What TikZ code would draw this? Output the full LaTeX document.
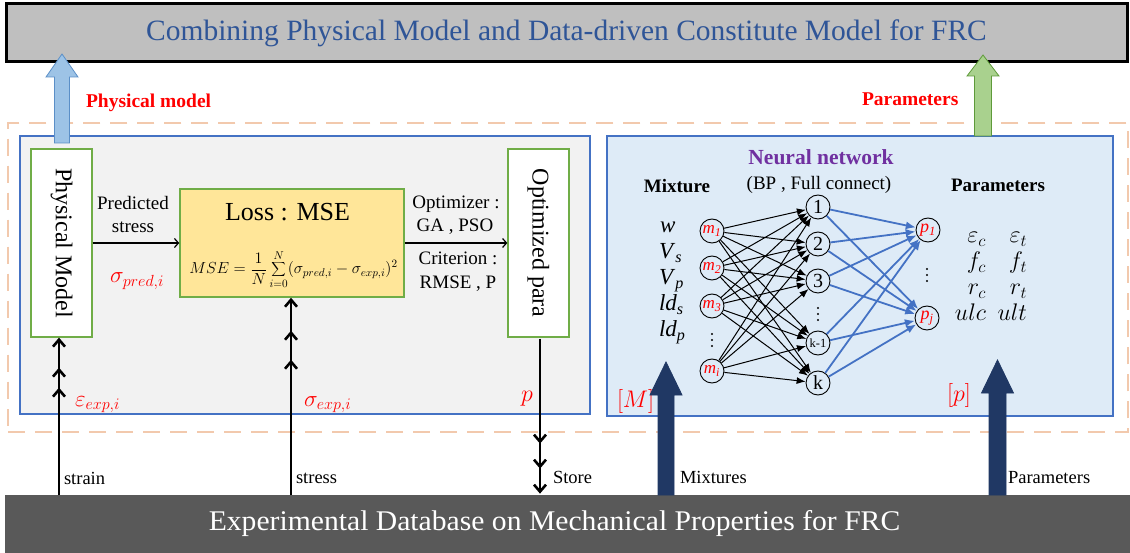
\documentclass[tikz,border=0pt]{standalone}
\usepackage{fix-cm}
\usepackage{fontspec}
\setmainfont{Liberation Serif}[BoldFont={Liberation Serif Bold},ItalicFont={Liberation Serif Italic}]
\usetikzlibrary{arrows.meta,decorations.markings,calc}

\definecolor{titleblue}{HTML}{2F5597}
\definecolor{topgray}{HTML}{BFBFBF}
\definecolor{dbgray}{HTML}{595959}
\definecolor{boxblue}{HTML}{4472C4}
\definecolor{leftfill}{HTML}{F2F2F2}
\definecolor{rightfill}{HTML}{DEEBF7}
\definecolor{boxgreen}{HTML}{70AD47}
\definecolor{lossfill}{HTML}{FFE699}
\definecolor{dashtan}{HTML}{C98A62}
\definecolor{dashlight}{HTML}{F2C9AD}
\definecolor{nnpurple}{HTML}{7030A0}
\definecolor{navy}{HTML}{203864}
\definecolor{arrowsky}{HTML}{9DC3E6}
\definecolor{arrowskyline}{HTML}{5B8FC7}
\definecolor{arrowleaf}{HTML}{A9D18E}
\definecolor{arrowleafline}{HTML}{5E9A3A}

\newcommand\fsz[2]{\fontsize{#1}{#2}\selectfont}
% a column of three dots centred on a named coordinate
\newcommand\dotcolumn[1]{%
  \foreach \d in {-6,0,6} \fill ($(#1)+(0,\d)$) circle (1.2);}
% upward block arrow: fill, outline, foot, tip, half shaft, half head, head length
\newcommand\blockup[7]{%
  \draw[fill=#1,draw=#2,line width=0.8] let \p1=(#3),\p2=(#4) in
    (\x1-#5pt,\y1) -- (\x1-#5pt,\y2-#7pt) -- (\x1-#6pt,\y2-#7pt) -- (\x1,\y2)
    -- (\x1+#6pt,\y2-#7pt) -- (\x1+#5pt,\y2-#7pt) -- (\x1+#5pt,\y1) -- cycle;}

\tikzset{
  chevtip/.tip={Straight Barb[length=7pt,width=12pt,line width=2.6pt]},
}

\begin{document}
\begin{tikzpicture}[x=1pt,y=-1pt,
  txt/.style={inner sep=0pt,outer sep=0pt},
  panel/.style={draw=boxblue,line width=2.2,inner sep=0pt},
  gbox/.style={draw=boxgreen,line width=1.3,fill=white,inner sep=0pt,minimum width=61,minimum height=188},
  neuron/.style={draw=black,line width=0.9,circle,minimum size=24,inner sep=0pt},
  nnblack/.style={draw=black,line width=1,-{Latex[length=9pt,width=7pt]}},
  nnblue/.style={draw=boxblue,line width=1.8,-{Latex[length=10pt,width=8pt]}},
  thinflow/.style={line width=1.2,-{Straight Barb[length=4pt,width=9pt,line width=1.2pt]}},
  chevline/.style 2 args={line width=2.6,-chevtip,
    postaction={decorate},
    decoration={markings,
      mark=at position -#1 with {\arrow{chevtip}},
      mark=at position -#2 with {\arrow{chevtip}}}},
  redlbl/.style={txt,text=red},
]
\useasboundingbox (0,0) rectangle (1130,553);

% ---- title bar and database bar ----
\node[draw=black,line width=3,fill=topgray,minimum width=1121,minimum height=58,inner sep=0pt]
  (title) at (566.5,33) {\fsz{29.5}{29.5}\color{titleblue}Combining Physical Model and Data-driven Constitute Model for FRC};
\node[fill=dbgray,minimum width=1126,minimum height=58,inner sep=0pt]
  (db) at (568,524) {};
\node[txt,text=white,xscale=1.04] (dbtext) at (554.5,523) {\fsz{28.5}{28.5}Experimental Database on Mechanical Properties for FRC};

% ---- dashed frame ----
\node[draw=dashtan,line width=0.6,double=dashlight,double distance=1.2pt,
      dash pattern=on 17pt off 10pt,minimum width=1120,minimum height=309,inner sep=0pt]
  (frame) at (568,277.5) {};

% ---- the two panels ----
\node[panel,fill=leftfill,minimum width=570,minimum height=278] (left) at (305,275) {};
\node[panel,fill=rightfill,minimum width=506,minimum height=280] (right) at (860,276) {};

% ---- physical model side ----
\node[gbox] (pm) at (61.5,243) {};
\node[txt,rotate=-90] (pmtext) at (pm.center) {\fsz{24}{24}Physical Model};
\node[gbox] (opt) at (538.5,243) {};
\node[txt,rotate=-90] (opttext) at (opt.center) {\fsz{24}{24}Optimized para};
\node[draw=boxgreen,line width=1.5,fill=lossfill,minimum width=224,minimum height=108,inner sep=0pt]
  (loss) at (292,243) {};
\node[txt,anchor=base] (losstitle) at (287.5,221) {\fsz{26}{26}Loss : MSE};
\node[txt,anchor=base] (lossformula) at (293.5,274)
  {\fsz{16}{16}$\displaystyle MSE=\frac{1}{N}\sum_{i=0}^{N}(\sigma_{pred,i}-\sigma_{exp,i})^2$};

\draw[thinflow] (pm.east) -- (loss.west);
\draw[thinflow] (loss.east) -- (opt.west);

\node[txt,anchor=base] (pred1) at (133,210) {\fsz{19}{19}Predicted};
\node[txt,anchor=base] (pred2) at (133,233) {\fsz{19}{19}stress};
\node[redlbl,anchor=base west] (sigpred) at (110,283) {\fsz{23}{23}$\sigma_{pred,i}$};

\node[txt,anchor=base] (optz1) at (456,209) {\fsz{19}{19}Optimizer :};
\node[txt,anchor=base] (optz2) at (455,232) {\fsz{19}{19}GA , PSO};
\node[txt,anchor=base] (crit1) at (458,265) {\fsz{19}{19}Criterion :};
\node[txt,anchor=base] (crit2) at (458,289) {\fsz{19}{19}RMSE , P};

\node[redlbl,anchor=base west] (epsexp) at (75,406) {\fsz{23}{23}$\varepsilon_{exp,i}$};
\node[redlbl,anchor=base west] (sigexp) at (304,406) {\fsz{23}{23}$\sigma_{exp,i}$};
\node[redlbl,anchor=base west] (plbl) at (521,401) {\fsz{24}{24}$p$};

% ---- inputs from the database and the store line ----
\coordinate (strainfoot) at (59,495);
\coordinate (stressfoot) at (291,495);
\coordinate (storefoot) at ($(opt.south)+(1.5,156)$);
\coordinate (storetop) at ($(opt.south)+(1.5,1)$);
\draw[chevline={30pt}{50pt}] (strainfoot) -- (strainfoot |- pm.south);
\draw[chevline={33pt}{62pt}] (stressfoot) -- (stressfoot |- loss.south);
\draw[chevline={25pt}{50pt}] (storetop) -- (storefoot);

\node[txt,anchor=base west] (strainlbl) at (64,484) {\fsz{18.5}{18.5}strain};
\node[txt,anchor=base west] (stresslbl) at (296,483) {\fsz{18.5}{18.5}stress};
\node[txt,anchor=base west] (storelbl) at (553,483) {\fsz{18.5}{18.5}Store};
\node[txt,anchor=base west] (mixlbl) at (680,483) {\fsz{18.5}{18.5}Mixtures};
\node[txt,anchor=base west] (parlbl) at (1008,483) {\fsz{18.5}{18.5}Parameters};

% ---- neural network side ----
\node[txt,anchor=base,text=nnpurple] (nntitle) at (821,165) {\fsz{21.5}{21.5}\bfseries Neural network};
\node[txt,anchor=base] (nnsub) at (819,190) {\fsz{19}{19}(BP , Full connect)};
\node[txt,anchor=base] (mixhead) at (677,193) {\fsz{19}{19}\bfseries Mixture};
\node[txt,anchor=base] (parhead) at (998,192) {\fsz{19}{19}\bfseries Parameters};

\node[txt,anchor=base west] (vw) at (660,233) {\fsz{23}{23}\textit{w}};
\node[txt,anchor=base west] (vvs) at (659,259) {\fsz{23}{23}\textit{V}\textsubscript{\textit{s}}};
\node[txt,anchor=base west] (vvp) at (659,285) {\fsz{23}{23}\textit{V}\textsubscript{\textit{p}}};
\node[txt,anchor=base west] (vlds) at (659,311) {\fsz{23}{23}\textit{ld}\textsubscript{\textit{s}}};
\node[txt,anchor=base west] (vldp) at (659,337) {\fsz{23}{23}\textit{ld}\textsubscript{\textit{p}}};

\node[neuron] (m1) at (712,231) {\fsz{17}{17}\color{red}\textit{m}\textsubscript{\textit{1}}};
\node[neuron] (m2) at (712,268) {\fsz{17}{17}\color{red}\textit{m}\textsubscript{\textit{2}}};
\node[neuron] (m3) at (712,306) {\fsz{17}{17}\color{red}\textit{m}\textsubscript{\textit{3}}};
\coordinate (mdots) at (712,340);
\node[neuron] (mi) at (712,371) {\fsz{17}{17}\color{red}\textit{m}\textsubscript{\textit{i}}};

\node[neuron] (h1) at (818,207) {\fsz{20}{20}1};
\node[neuron] (h2) at (818,244) {\fsz{20}{20}2};
\node[neuron] (h3) at (818,281) {\fsz{20}{20}3};
\coordinate (hdots) at (818,314);
\node[neuron] (hk1) at (818,343) {\fsz{12.5}{12.5}k-1};
\node[neuron] (hk) at (818,383) {\fsz{20}{20}k};

\node[neuron] (p1) at (928,230) {\fsz{18}{18}\color{red}\textit{p}\textsubscript{\textit{1}}};
\coordinate (pdots) at (927,275);
\node[neuron] (pj) at (927,318) {\fsz{18}{18}\color{red}\textit{p}\textsubscript{\textit{j}}};

\dotcolumn{mdots}
\dotcolumn{hdots}
\dotcolumn{pdots}

\foreach \a in {m1,m2,m3,mi}
  \foreach \b in {h1,h2,h3,hk1,hk}
    \draw[nnblack] (\a) -- (\b);
\foreach \b in {h1,h2,h3,hk1,hk}
  \foreach \c in {p1,pj}
    \draw[nnblue] (\b) -- (\c);

\node[txt,anchor=base east] (ec) at (986,243) {\fsz{24}{24}$\varepsilon_c$};
\node[txt,anchor=base east] (et) at (1027,243) {\fsz{24}{24}$\varepsilon_t$};
\node[txt,anchor=base east] (fc) at (986,269) {\fsz{24}{24}$f_c$};
\node[txt,anchor=base east] (ft) at (1027,269) {\fsz{24}{24}$f_t$};
\node[txt,anchor=base east] (rc) at (986,295) {\fsz{24}{24}$r_c$};
\node[txt,anchor=base east] (rt) at (1027,295) {\fsz{24}{24}$r_t$};
\node[txt,anchor=base east] (ulc) at (986,320) {\fsz{24}{24}$ulc$};
\node[txt,anchor=base east] (ult) at (1027,320) {\fsz{24}{24}$ult$};

\node[redlbl,anchor=base west] (Mlbl) at (617,407) {\fsz{24}{24}$[M]$};
\node[redlbl,anchor=base west] (plbl2) at (947,401) {\fsz{24}{24}$[p]$};

% ---- block arrows ----
\coordinate (pmfoot) at (62,143);
\coordinate (pmtip) at (62,54);
\coordinate (parfoot) at (983,136);
\coordinate (partip) at (983,55);
\coordinate (mixfoot) at (666,495);
\coordinate (mixtip) at (666,362);
\coordinate (pinfoot) at (997.5,495);
\coordinate (pintip) at (997.5,360);
\blockup{arrowsky}{arrowskyline}{pmfoot}{pmtip}{7.5}{16}{23}
\blockup{arrowleaf}{arrowleafline}{parfoot}{partip}{8.5}{16}{21}
\blockup{navy}{navy}{mixfoot}{mixtip}{8}{16}{33}
\blockup{navy}{navy}{pinfoot}{pintip}{8.5}{16}{33}

\node[redlbl,anchor=base west] (pmhead) at (86,108) {\fsz{19.5}{19.5}\bfseries Physical model};
\node[redlbl,anchor=base west] (parhead2) at (862,106) {\fsz{19.5}{19.5}\bfseries Parameters};
\end{tikzpicture}
\end{document}
